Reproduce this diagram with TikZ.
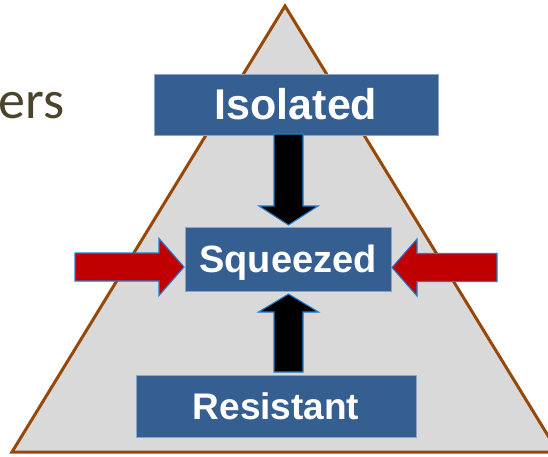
\documentclass[tikz,border=0pt]{standalone}
\usepackage{fontspec}
\setsansfont{Liberation Sans}
\newfontfamily\bodyfont{Carlito}
\usetikzlibrary{calc}

\definecolor{boxblue}{RGB}{54,95,145}
\definecolor{boxedge}{RGB}{140,164,198}
\definecolor{pyrfill}{RGB}{217,217,217}
\definecolor{pyredge}{RGB}{152,72,6}
\definecolor{arrowedge}{RGB}{32,126,206}
\definecolor{pushred}{RGB}{192,0,0}
\definecolor{olivetext}{RGB}{74,69,42}

\tikzset{
  ar shaft/.store in=\arshaft, ar head/.store in=\arhead, ar len/.store in=\arlen,
  ar shaft=14pt, ar head=29pt, ar len=19pt,
  % filled block arrow from the start point to the target point
  blockarrow/.style={draw=arrowedge, line width=1.1pt, line join=miter,
    to path={
      let \p1=(\tikztostart), \p2=(\tikztotarget),
          \n1={atan2(\y2-\y1,\x2-\x1)}, \n2={veclen(\x2-\x1,\y2-\y1)} in
      ($(\p1)+(\n1+90:\arshaft)$)
      -- ($(\p1)+(\n1:\n2-\arlen)+(\n1+90:\arshaft)$)
      -- ($(\p1)+(\n1:\n2-\arlen)+(\n1+90:\arhead)$)
      -- (\p2)
      -- ($(\p1)+(\n1:\n2-\arlen)+(\n1-90:\arhead)$)
      -- ($(\p1)+(\n1:\n2-\arlen)+(\n1-90:\arshaft)$)
      -- ($(\p1)+(\n1-90:\arshaft)$) -- cycle}},
  levelbox/.style={fill=boxblue, draw=boxedge, line width=0.6pt, inner sep=0pt,
    text=white, text depth=0pt}
}

\begin{document}
\begin{tikzpicture}[x=1pt, y=-1pt]
  \useasboundingbox (0,0) rectangle (548,456);
  \clip (0,0) rectangle (548,456);

  % pyramid
  \draw[fill=pyrfill, draw=pyredge, line width=3pt, line join=miter]
    (285,6) -- (558,452) -- (12,452) -- cycle;

  % partial heading text at the left edge
  \node[anchor=base west, inner sep=0pt, text=olivetext, font=\bodyfont\fontsize{54}{60}\selectfont]
    (head) at (-2,118) {ers};

  % the three levels
  \node[levelbox, minimum width=284pt, minimum height=61pt, text height=30.8pt,
        font=\sffamily\bfseries\fontsize{43}{50}\selectfont]
    (iso) at (296,104.5) {Isolated};
  \node[levelbox, minimum width=206pt, minimum height=64pt, text height=27.2pt,
        font=\sffamily\bfseries\fontsize{38}{45}\selectfont]
    (sq) at (288,259) {Squeezed};
  \node[levelbox, minimum width=280pt, minimum height=62pt, text height=26.5pt,
        font=\sffamily\bfseries\fontsize{37}{44}\selectfont]
    (res) at (276,406) {Resistant};

  % end points of the block arrows
  \coordinate (dtail) at (288.5,134);
  \coordinate (dtip)  at (288.5,225);
  \coordinate (utail) at (288.5,372);
  \coordinate (utip)  at (288.5,294);
  \coordinate (ltail) at (75,267);
  \coordinate (ltip)  at (184,267);
  \coordinate (rtail) at (497,267.5);
  \coordinate (rtip)  at (392,267.5);

  % vertical pressure arrows
  \draw[blockarrow, fill=black, ar shaft=14.5pt, ar head=29.5pt, ar len=19pt] (dtail) to (dtip);
  \draw[blockarrow, fill=black, ar shaft=14.5pt, ar head=30pt, ar len=18pt] (utail) to (utip);

  % horizontal squeezing arrows
  \draw[blockarrow, fill=pushred, ar shaft=14pt, ar head=28.5pt, ar len=25pt] (ltail) to (ltip);
  \draw[blockarrow, fill=pushred, ar shaft=14pt, ar head=28.5pt, ar len=25pt] (rtail) to (rtip);
\end{tikzpicture}
\end{document}
